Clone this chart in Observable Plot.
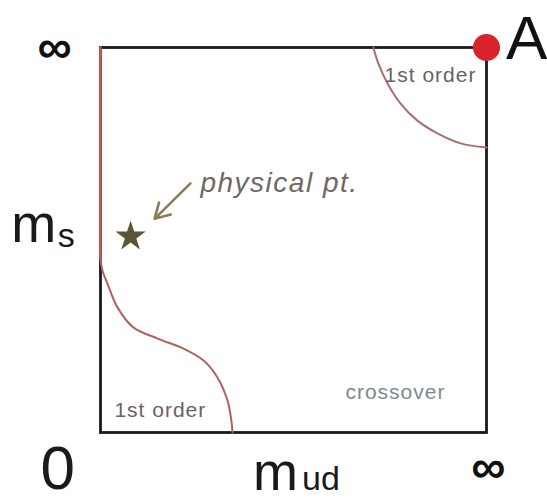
<!DOCTYPE html>
<html><head><meta charset="utf-8">
<script src="https://cdn.jsdelivr.net/npm/d3@7"></script>
<script src="https://cdn.jsdelivr.net/npm/@observablehq/plot@0.6"></script>
<style>body{margin:0;background:#fff}</style>
</head><body><div id="chart"></div>
<script>
// Columbia plot: m_ud (x, 0..∞ mapped to 0..1) vs m_s (y, 0..∞ mapped to 0..1)
const lowerCurveX = [0, 0.005, 0.018, 0.044, 0.085, 0.148, 0.215, 0.267, 0.303, 0.329, 0.339, 0.342];
const lowerCurveY = [0.452, 0.421, 0.387, 0.325, 0.273, 0.244, 0.218, 0.187, 0.143, 0.083, 0.031, 0];
const upperCurveX = [0.707, 0.720, 0.744, 0.777, 0.821, 0.873, 0.933, 1];
const upperCurveY = [1, 0.958, 0.906, 0.855, 0.810, 0.777, 0.751, 0.740];
const leftLineX = [0, 0];
const leftLineY = [0.452, 1];
const physicalPtX = [0.078];
const physicalPtY = [0.509];
const cornerX = [1];
const cornerY = [1];
const regionLabels = ["1st order", "1st order", "crossover"];
const pointLabel = "physical pt.";
const tickLabels = ["0", "∞", "∞"];
const axisNames = ["m", "s", "m", "ud"];
const cornerLabel = "A";

const pts = (xs, ys) => xs.map((x, i) => ({x, y: ys[i]}));

const font = "'Liberation Sans', Arial, Helvetica, sans-serif";
const txt = (t, o) => Plot.text([t], {text: d => d, ...o});

const chart = Plot.plot({
  width: 547,
  height: 504,
  marginLeft: 100,
  marginRight: 61,
  marginTop: 47,
  marginBottom: 72,
  x: {domain: [0, 1], axis: null},
  y: {domain: [0, 1], axis: null},
  style: {fontFamily: font, background: "white", overflow: "visible"},
  marks: [
    Plot.frame({stroke: "#1a1a1a", strokeWidth: 2.8}),
    Plot.line(pts(leftLineX, leftLineY), {x: "x", y: "y", stroke: "#cf5a55", strokeWidth: 2.6}),
    Plot.line(pts(lowerCurveX, lowerCurveY), {x: "x", y: "y", curve: "catmull-rom", stroke: "#b0635d", strokeWidth: 2}),
    Plot.line(pts(upperCurveX, upperCurveY), {x: "x", y: "y", curve: "catmull-rom", stroke: "#a8706a", strokeWidth: 2}),
    Plot.dot(pts(physicalPtX, physicalPtY), {x: "x", y: "y", symbol: "star", r: 9.5, fill: "#5c5436", stroke: "none"}),
    Plot.arrow([{x1: 0.233, y1: 0.647, x2: 0.140, y2: 0.555}], {x1: "x1", y1: "y1", x2: "x2", y2: "y2", stroke: "#8b7c5c", strokeWidth: 2.6, headLength: 12}),
    Plot.dot(pts(cornerX, cornerY), {x: "x", y: "y", r: 13.5, fill: "#d9232a", stroke: "none"}),
    txt(pointLabel, {x: 0.259, y: 0.649, textAnchor: "start", fontSize: 28, fontStyle: "italic", fill: "#6f6763"}),
    txt(regionLabels[0], {x: 0.855, y: 0.927, fontSize: 21, fill: "#6b6262"}),
    txt(regionLabels[1], {x: 0.155, y: 0.057, fontSize: 21, fill: "#6b6262"}),
    txt(regionLabels[2], {x: 0.764, y: 0.104, fontSize: 21, fill: "#7b8a90"}),
    txt(tickLabels[0], {x: -0.111, y: -0.094, fontSize: 62, fill: "#1a1a1a"}),
    txt(tickLabels[1], {x: -0.119, y: 0.999, fontSize: 48, fontWeight: "bold", fill: "#111"}),
    txt(tickLabels[2], {x: 1.005, y: -0.091, fontSize: 48, fontWeight: "bold", fill: "#111"}),
    txt(axisNames[0], {x: -0.231, y: 0.540, textAnchor: "start", fontSize: 54, fill: "#1a1a1a"}),
    txt(axisNames[1], {x: -0.111, y: 0.509, textAnchor: "start", fontSize: 34, fill: "#1a1a1a"}),
    txt(axisNames[2], {x: 0.395, y: -0.104, textAnchor: "start", fontSize: 54, fill: "#1a1a1a"}),
    txt(axisNames[3], {x: 0.522, y: -0.122, textAnchor: "start", fontSize: 34, fill: "#1a1a1a"}),
    txt(cornerLabel, {x: 1.104, y: 1.0226, fontSize: 62, fill: "#111"})
  ]
});
d3.select(chart).selectAll("text")
  .filter(function() { return regionLabels.includes(this.textContent); })
  .attr("letter-spacing", "1px");
d3.select(chart).selectAll("text")
  .filter(function() { return this.textContent === pointLabel; })
  .attr("letter-spacing", "1.5px");
document.getElementById("chart").appendChild(chart);
</script>
</body></html>
